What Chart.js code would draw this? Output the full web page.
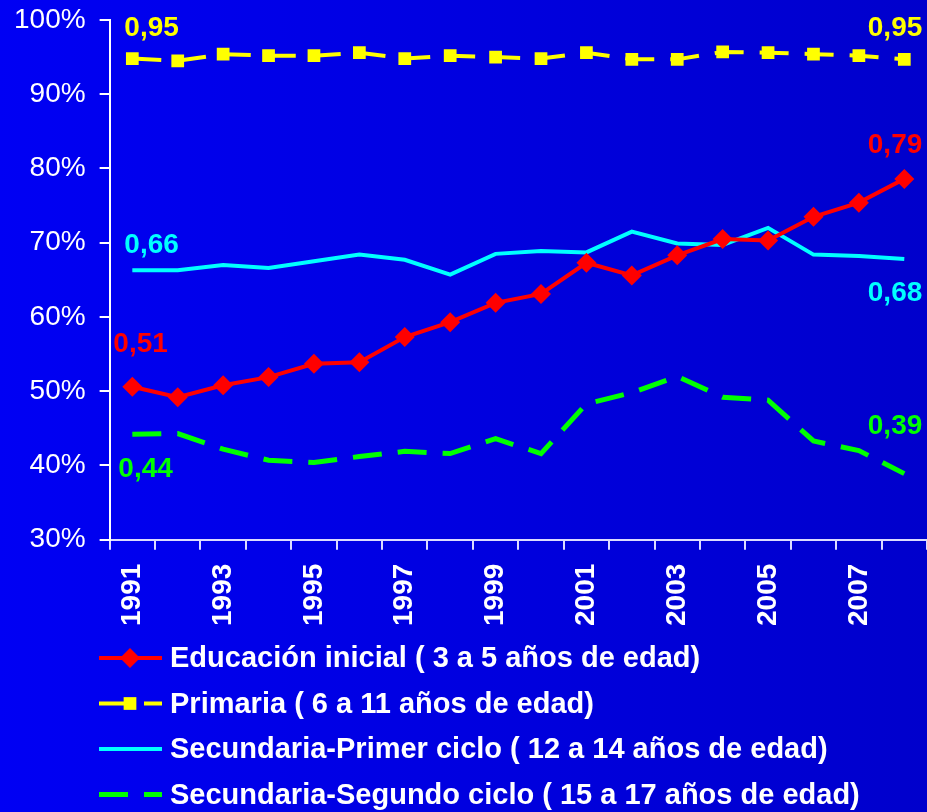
<!DOCTYPE html>
<html>
<head>
<meta charset="utf-8">
<script src="https://cdn.jsdelivr.net/npm/chart.js@4.4.1/dist/chart.umd.min.js"></script>
<style>
    html, body { margin: 0; padding: 0; }
    body {
        width: 927px;
        height: 812px;
        overflow: hidden;
        background: linear-gradient(to right, #0000f4, #0000cc);
    }
</style>
</head>
<body>
<canvas id="myChart" width="927" height="812"></canvas>
<script>
const years = ['1991', '1992', '1993', '1994', '1995', '1996', '1997', '1998', '1999',
    '2000', '2001', '2002', '2003', '2004', '2005', '2006', '2007', '2008'];

// tasas en %
const inicial = [50.6, 49.2, 50.8, 51.9, 53.7, 53.9, 57.3, 59.3, 61.9,
    63.1, 67.3, 65.6, 68.3, 70.5, 70.3, 73.5, 75.4, 78.6];
const primaria = [94.8, 94.5, 95.4, 95.2, 95.2, 95.6, 94.8, 95.2, 95.0,
    94.8, 95.6, 94.7, 94.7, 95.7, 95.6, 95.4, 95.2, 94.7];
const secPrimer = [66.3, 66.3, 67.0, 66.6, 67.5, 68.4, 67.7, 65.7, 68.5,
    68.9, 68.7, 71.5, 69.9, 69.7, 72.0, 68.4, 68.2, 67.8];
const secSegundo = [44.2, 44.3, 42.2, 40.7, 40.4, 41.2, 41.9, 41.6, 43.6,
    41.6, 48.3, 49.8, 52.0, 49.2, 48.8, 43.3, 42.0, 38.9];

const seriesNames = [
    'Educación inicial ( 3 a 5 años de edad)',
    'Primaria ( 6 a 11 años de edad)',
    'Secundaria-Primer ciclo ( 12 a 14 años de edad)',
    'Secundaria-Segundo ciclo ( 15 a 17 años de edad)'
];
const yMin = 30;
const yMax = 100;
const yStep = 10;

const FONT = "'Liberation Sans', Arial, sans-serif";

// etiquetas de valor: serie, punto, alineación, desplazamiento
const valueLabels = [
    { ds: 1, i: 0, align: 'left', dx: -8, dy: -30 },
    { ds: 1, i: 17, align: 'right', dx: 18, dy: -31 },
    { ds: 0, i: 0, align: 'left', dx: -19, dy: -42 },
    { ds: 0, i: 17, align: 'right', dx: 18, dy: -34 },
    { ds: 2, i: 0, align: 'left', dx: -8, dy: -25 },
    { ds: 2, i: 17, align: 'right', dx: 18, dy: 34 },
    { ds: 3, i: 0, align: 'left', dx: -14, dy: 35 },
    { ds: 3, i: 17, align: 'right', dx: 18, dy: -47 }
];

const labelsPlugin = {
    id: 'valueLabels',
    afterDatasetsDraw(chart) {
        const ctx = chart.ctx;
        ctx.save();
        ctx.font = 'bold 28px ' + FONT;
        ctx.textBaseline = 'middle';
        valueLabels.forEach(l => {
            const ds = chart.data.datasets[l.ds];
            const pt = chart.getDatasetMeta(l.ds).data[l.i];
            const txt = (ds.data[l.i] / 100).toFixed(2).replace('.', ',');
            ctx.fillStyle = ds.borderColor;
            ctx.textAlign = l.align;
            ctx.fillText(txt, pt.x + l.dx, pt.y + l.dy);
        });
        ctx.restore();
    }
};

const legendPlugin = {
    id: 'bottomLegend',
    afterDraw(chart) {
        const ctx = chart.ctx;
        const x0 = 99, x1 = 162, xm = 130, xt = 170;
        ctx.save();
        chart.data.datasets.forEach((ds, i) => {
            const y = 658 + i * 45.5;
            ctx.strokeStyle = ds.borderColor;
            ctx.lineWidth = ds.borderWidth;
            ctx.lineCap = 'butt';
            ctx.setLineDash(ds.borderDash || []);
            ctx.beginPath();
            ctx.moveTo(x0, y);
            ctx.lineTo(x1, y);
            ctx.stroke();
            ctx.setLineDash([]);
            if (ds.pointRadius > 0) {
                ctx.fillStyle = ds.pointBackgroundColor;
                Chart.helpers.drawPoint(ctx, {
                    pointStyle: ds.pointStyle,
                    radius: ds.pointRadius,
                    rotation: 0,
                    borderWidth: 0
                }, xm, y);
            }
            ctx.fillStyle = '#ffffff';
            ctx.font = 'bold 29px ' + FONT;
            ctx.textAlign = 'left';
            ctx.textBaseline = 'middle';
            ctx.fillText(ds.label, xt, y + 1);
        });
        ctx.restore();
    }
};

const ctx = document.getElementById('myChart');

new Chart(ctx, {
    type: 'line',
    data: {
        labels: years,
        datasets: [{
            label: seriesNames[0],
            data: inicial,
            borderColor: '#ff0000',
            borderWidth: 4,
            pointStyle: 'rectRot',
            pointRadius: 10,
            pointBackgroundColor: '#ff0000',
            pointBorderWidth: 0,
            tension: 0
        }, {
            label: seriesNames[1],
            data: primaria,
            borderColor: '#ffff00',
            borderWidth: 4,
            borderDash: [29, 16],
            pointStyle: 'rect',
            pointRadius: 9,
            pointBackgroundColor: '#ffff00',
            pointBorderWidth: 0,
            tension: 0
        }, {
            label: seriesNames[2],
            data: secPrimer,
            borderColor: '#00ffff',
            borderWidth: 4,
            pointRadius: 0,
            tension: 0
        }, {
            label: seriesNames[3],
            data: secSegundo,
            borderColor: '#00ff00',
            borderWidth: 5,
            borderDash: [29, 16],
            pointRadius: 0,
            tension: 0
        }]
    },
    options: {
        responsive: false,
        animation: false,
        devicePixelRatio: 1,
        layout: {
            autoPadding: false,
            padding: { left: 0, top: 20, right: 0, bottom: 172 }
        },
        plugins: {
            legend: { display: false },
            tooltip: { enabled: false }
        },
        scales: {
            x: {
                offset: true,
                afterFit: s => { s.paddingLeft = 0; s.paddingRight = 0; },
                grid: {
                    display: true,
                    drawOnChartArea: false,
                    drawTicks: true,
                    tickLength: 10,
                    color: '#dcdcff',
                    lineWidth: 2,
                    offset: true
                },
                border: { color: '#dcdcff', width: 2 },
                ticks: {
                    color: '#ffffff',
                    font: { family: FONT, size: 28, weight: 'bold' },
                    minRotation: 90,
                    maxRotation: 90,
                    autoSkip: false,
                    padding: 14,
                    callback: (v, i) => (i % 2 === 0 ? years[i] : '')
                }
            },
            y: {
                min: yMin,
                max: yMax,
                afterFit: s => { s.paddingTop = 0; s.paddingBottom = 0; },
                grid: {
                    display: true,
                    drawOnChartArea: false,
                    drawTicks: true,
                    tickLength: 10,
                    color: '#ffffff',
                    lineWidth: 2
                },
                border: { color: '#ffffff', width: 2 },
                ticks: {
                    stepSize: yStep,
                    color: '#ffffff',
                    font: { family: FONT, size: 28 },
                    padding: 14,
                    callback: v => v + '%'
                }
            }
        }
    },
    plugins: [labelsPlugin, legendPlugin]
});
</script>
</body>
</html>
